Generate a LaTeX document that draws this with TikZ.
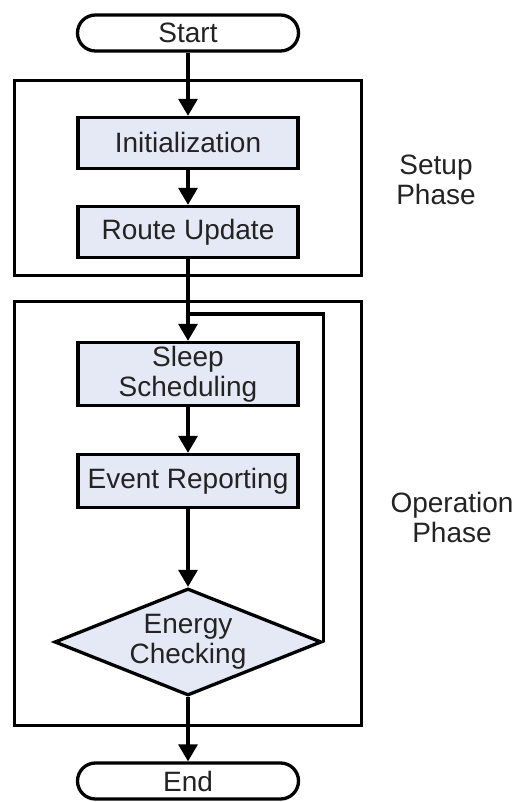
\documentclass[tikz,border=0pt]{standalone}
\usepackage{fontspec}
\setmainfont{Liberation Sans}
\usetikzlibrary{arrows.meta,shapes.geometric}
\definecolor{boxfill}{RGB}{228,233,245}
\definecolor{txt}{RGB}{35,35,35}
\begin{document}
\begin{tikzpicture}[x=1pt,y=1pt,
  font=\fontsize{28}{30}\selectfont,
  proc/.style={draw, line width=3.3pt, fill=boxfill, minimum width=220pt, align=center, inner sep=0pt, text=txt},
  term/.style={draw, line width=3.3pt, rounded corners=18pt, minimum width=221pt, minimum height=36pt, fill=white, inner sep=0pt, text=txt},
  dec/.style={draw, diamond, line width=3.3pt, fill=boxfill, minimum width=267pt, minimum height=107pt, aspect=2.45, inner sep=0pt, align=center, text=txt},
  phase/.style={draw, line width=3.3pt, inner sep=0pt},
  flow/.style={line width=3.3pt, -{Triangle[width=19pt,length=17pt]}},
  plain/.style={line width=3.3pt},
  lab/.style={align=center, text=txt},
]
\useasboundingbox (0,0) rectangle (515,802);
% phase frames
\node[phase, minimum width=347pt, minimum height=195pt] (setup) at (188,624) {};
\node[phase, minimum width=347pt, minimum height=424pt] (oper) at (188,288.5) {};
% steps
\node[term] (start) at (188,769) {Start};
\node[proc, minimum height=51pt] (init) at (188,659) {Initialization};
\node[proc, minimum height=51pt] (route) at (188,570) {Route Update};
\node[proc, minimum height=63pt] (sleep) at (188,428) {Sleep\\Scheduling};
\node[proc, minimum height=53pt] (event) at (188,321) {Event Reporting};
\node[dec] (check) at (188,160) {Energy\\Checking};
\node[term] (end) at (188,21) {End};
\coordinate (join) at (188,488);
% labels
\node[lab] (setuplab) at (436,622) {Setup\\Phase};
\node[lab] (operlab) at (452,285) {Operation\\Phase};
% connectors
\draw[flow] (start) -- (init);
\draw[flow] (init) -- (route);
\draw[flow] (route) -- (sleep);
\draw[plain] (check.east) |- (join);
\draw[flow] (sleep) -- (event);
\draw[flow] (event) -- (check);
\draw[flow] (check) -- (end);
\end{tikzpicture}
\end{document}
